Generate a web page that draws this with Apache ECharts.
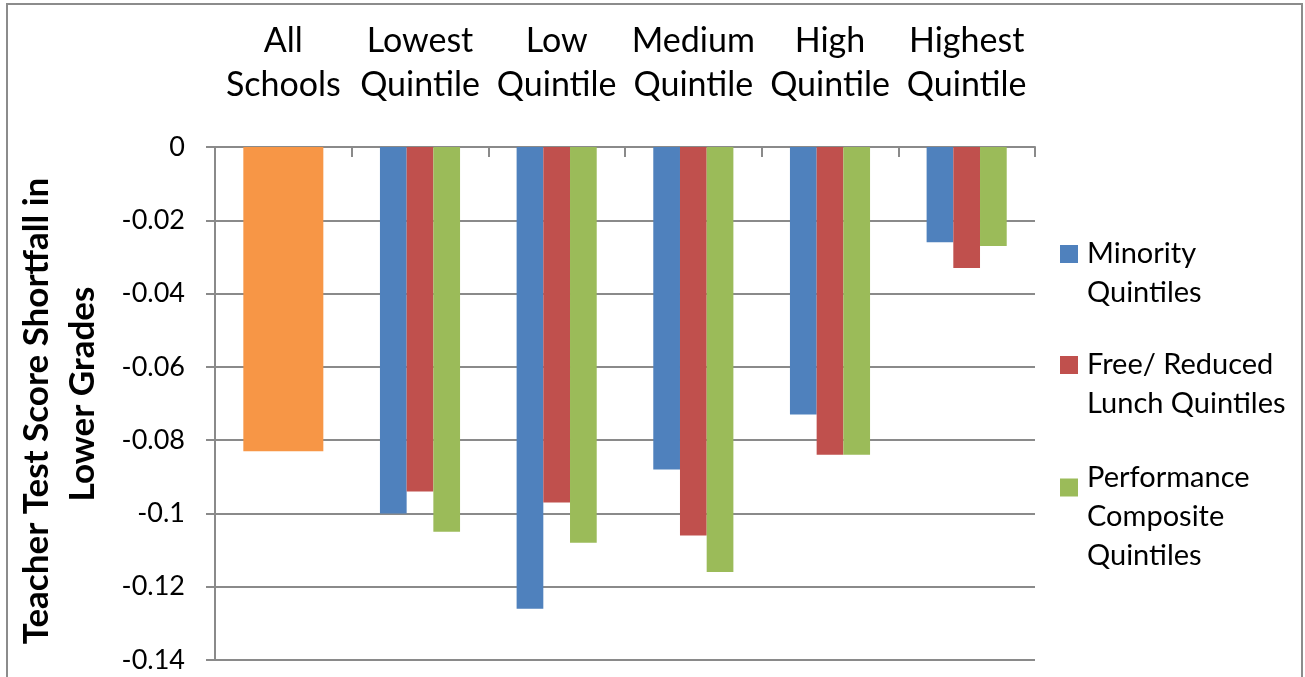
<!DOCTYPE html>
<html>
<head>
<meta charset="utf-8">
<title>Teacher Test Score Shortfall in Lower Grades</title>
<script src="https://cdn.jsdelivr.net/npm/echarts@6/dist/echarts.min.js"></script>
<style>
  html, body { margin: 0; padding: 0; background: #fff; }
  #chart { width: 1305px; height: 677px; }
</style>
</head>
<body>
<div id="chart"></div>
<script>
// Categories along the top axis
const categories = ['All\nSchools', 'Lowest\nQuintile', 'Low\nQuintile', 'Medium\nQuintile', 'High\nQuintile', 'Highest\nQuintile'];

// Overall value for all schools
const allSchools = [-0.083];

// Quintile groupings (first category is the all-schools bar)
const minority = [-0.100, -0.126, -0.088, -0.073, -0.026];
const freeReducedLunch = [-0.094, -0.097, -0.106, -0.084, -0.033];
const performanceComposite = [-0.105, -0.108, -0.116, -0.084, -0.027];

const seriesNames = ['Minority\nQuintiles', 'Free/ Reduced\nLunch Quintiles', 'Performance\nComposite\nQuintiles'];

// Value axis tick labels, from 0 down to -0.14
const yTickLabels = ['0', '-0.02', '-0.04', '-0.06', '-0.08', '-0.1', '-0.12', '-0.14'];

const yTitle = ['Teacher Test Score Shortfall in', 'Lower Grades'];

const FONT = 'Lato';
const GRID = '#8a8a8a';
const colors = ['#4F81BD', '#C0504D', '#9BBB59'];
const orange = '#F79646';

const chart = echarts.init(document.getElementById('chart'), null, { renderer: 'canvas' });

const padFirst = arr => ['-'].concat(arr);

// One legend block per series so each can sit at its own height;
// a spacer line above the text keeps the swatch level with the first line.
function legendFor(i, top, spacer) {
  return {
    orient: 'vertical',
    left: 1060,
    top: top,
    padding: 0,
    itemWidth: 18,
    itemHeight: 18,
    icon: 'rect',
    selectedMode: false,
    data: [seriesNames[i]],
    formatter: name => '{s| }\n' + name.split('\n').map(l => '{t|' + l + '}').join('\n'),
    textStyle: {
      rich: {
        s: { fontSize: 2, lineHeight: spacer },
        t: { fontFamily: FONT, fontSize: 29, lineHeight: 39, color: '#000', padding: [0, 0, 0, 4] }
      }
    }
  };
}

const option = {
  backgroundColor: '#fff',
  animation: false,
  textStyle: { fontFamily: FONT },
  grid: { left: 215, right: 270, top: 147, bottom: 17, containLabel: false },
  graphic: [{
    type: 'rect',
    shape: { x: 7, y: 4, width: 1295, height: 720 },
    style: { fill: 'none', stroke: '#8c8c8c', lineWidth: 2 },
    silent: true, z: -10
  }],
  legend: [
    legendFor(0, 214, 39),
    legendFor(1, 325, 39),
    legendFor(2, 428, 58)
  ],
  xAxis: [{
    type: 'category',
    position: 'top',
    data: categories,
    axisLine: { show: true, onZero: false, lineStyle: { color: GRID, width: 2 } },
    axisTick: { show: true, inside: true, length: 10, lineStyle: { color: GRID, width: 2 } },
    axisLabel: { fontFamily: FONT, fontSize: 34, lineHeight: 44, color: '#000', margin: 40, interval: 0 },
    splitLine: { show: false }
  }, {
    type: 'category',
    position: 'top',
    data: categories,
    show: false
  }],
  yAxis: {
    type: 'value',
    min: -0.14,
    max: 0,
    interval: 0.02,
    axisLine: { show: true, lineStyle: { color: GRID, width: 2 } },
    axisTick: { show: true, length: 9, lineStyle: { color: GRID, width: 2 } },
    splitLine: { show: true, lineStyle: { color: GRID, width: 2 } },
    axisLabel: {
      fontFamily: FONT, fontSize: 27, color: '#000', margin: 30,
      formatter: v => yTickLabels[Math.round(-v / 0.02)]
    },
    name: '{a|' + yTitle[0] + '}\n{b|' + yTitle[1] + '}',
    nameLocation: 'middle',
    nameRotate: 90,
    nameGap: 109,
    nameTextStyle: {
      rich: {
        a: { fontFamily: FONT, fontWeight: 'bold', fontSize: 35, lineHeight: 46, color: '#000', padding: [0, 15, 0, 0] },
        b: { fontFamily: FONT, fontWeight: 'bold', fontSize: 35, lineHeight: 46, color: '#000', padding: [0, 0, 0, 19] }
      }
    }
  },
  series: [
    {
      name: 'All Schools',
      type: 'bar',
      xAxisIndex: 1,
      barWidth: 80,
      data: allSchools.concat(['-', '-', '-', '-', '-']),
      itemStyle: { color: orange }
    },
    {
      name: seriesNames[0], type: 'bar', xAxisIndex: 0, barWidth: 26.7, barGap: '0%',
      data: padFirst(minority), itemStyle: { color: colors[0] }
    },
    {
      name: seriesNames[1], type: 'bar', xAxisIndex: 0, barWidth: 26.7, barGap: '0%',
      data: padFirst(freeReducedLunch), itemStyle: { color: colors[1] }
    },
    {
      name: seriesNames[2], type: 'bar', xAxisIndex: 0, barWidth: 26.7, barGap: '0%',
      data: padFirst(performanceComposite), itemStyle: { color: colors[2] }
    }
  ]
};

chart.setOption(option);
</script>
</body>
</html>
